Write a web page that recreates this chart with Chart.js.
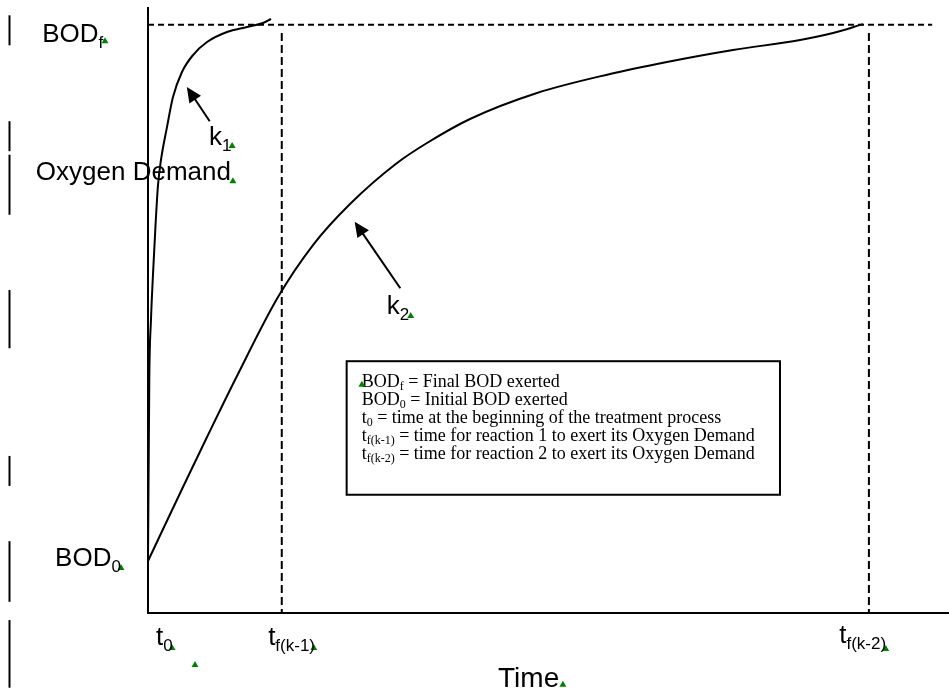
<!DOCTYPE html>
<html>
<head>
<meta charset="utf-8">
<script src="https://cdn.jsdelivr.net/npm/chart.js@4"></script>
<style>
  html, body { margin: 0; padding: 0; background: #fff; }
  #wrap { width: 949px; height: 688px; }
</style>
</head>
<body>
<div id="wrap"><canvas id="bod"></canvas></div>
<script>
// time axis: t0 = 0, reaction end times
const T0 = 0;
const TF_K1 = 16.7;
const TF_K2 = 90;
const T_END = 100;
const BOD_F = 100;
const BOD_TOP = 103;

// curves (time, oxygen demand)
const k1Time = [0, 0.16, 0.37, 0.62, 0.94, 1.25, 1.62, 2.37, 3.12, 4.24, 5.62, 7.37, 9.86, 12.36, 14.36, 15.36];
const k1Bod = [8.84, 39.6, 49.8, 57.45, 65.95, 72.75, 77.0, 82.6, 87.7, 91.96, 94.85, 97.06, 98.76, 99.61, 100.29, 100.97];

const k2Time = [0, 4.37, 7.37, 11.11, 16.23, 20.6, 25.22, 31.09, 34.83, 40.2, 48.56, 57.68, 64.79, 73.03, 81.4, 85.52, 89.26];
const k2Bod = [8.84, 21.42, 29.92, 40.29, 53.71, 62.55, 69.52, 76.49, 79.89, 83.97, 88.39, 91.62, 93.66, 95.7, 97.4, 98.59, 100.1];

// the small green markers scattered over the drawing
const markX = [-5.37, 10.5, 10.6, -3.37, 3.0, 5.87, 20.7, 92.1, 51.8, 32.8, 26.7];
const markY = [97.2, 79.4, 73.4, 7.65, -5.95, -8.84, -5.95, -6.1, -12.2, 50.5, 38.8];

const legendLines = [
  ["BOD", "f", " = Final BOD exerted"],
  ["BOD", "0", " = Initial BOD exerted"],
  ["t", "0", " = time at the beginning of the treatment process"],
  ["t", "f(k-1)", " = time for reaction 1 to exert its Oxygen Demand"],
  ["t", "f(k-2)", " = time for reaction 2 to exert its Oxygen Demand"],
];

const pts = (xs, ys) => xs.map((v, i) => ({ x: v, y: ys[i] }));

const SANS = '"Liberation Sans", Arial, sans-serif';
const SERIF = '"Liberation Serif", "Times New Roman", serif';

function subText(ctx, main, sub, rest, x, y, size, subSize, drop, family) {
  ctx.font = size + "px " + family;
  ctx.fillText(main, x, y);
  let w = ctx.measureText(main).width;
  ctx.font = subSize + "px " + family;
  ctx.fillText(sub, x + w, y + drop);
  w += ctx.measureText(sub).width;
  if (rest) {
    ctx.font = size + "px " + family;
    ctx.fillText(rest, x + w, y);
  }
}

function arrow(ctx, x1, y1, x2, y2) {
  const ang = Math.atan2(y2 - y1, x2 - x1);
  const len = 15, half = 7;
  const c = Math.cos(ang), s = Math.sin(ang);
  ctx.beginPath();
  ctx.moveTo(x1, y1);
  ctx.lineTo(x2 - c * len * 0.8, y2 - s * len * 0.8);
  ctx.stroke();
  ctx.beginPath();
  ctx.moveTo(x2, y2);
  ctx.lineTo(x2 - c * len + s * half, y2 - s * len - c * half);
  ctx.lineTo(x2 - c * len - s * half, y2 - s * len + c * half);
  ctx.closePath();
  ctx.fill();
}

const drawing = {
  id: "drawing",
  beforeDatasetsDraw(chart) {
    const { ctx, scales: { x, y } } = chart;
    ctx.save();
    ctx.strokeStyle = "#000";
    ctx.lineWidth = 2;
    ctx.beginPath();
    ctx.moveTo(x.getPixelForValue(T0), y.getPixelForValue(BOD_TOP));
    ctx.lineTo(x.getPixelForValue(T0), y.getPixelForValue(0));
    ctx.lineTo(x.getPixelForValue(T_END), y.getPixelForValue(0));
    ctx.stroke();

    // stray bars along the left edge
    const bars = [[101.6, 96.5], [83.6, 78.5], [77.9, 67.7], [54.9, 45.0], [26.7, 21.6], [12.2, 1.9], [-1.2, -12.7]];
    const bx = Math.round(x.getPixelForValue(-17.4)) + 0.5;
    bars.forEach(([t, b]) => {
      ctx.beginPath();
      ctx.moveTo(bx, y.getPixelForValue(t));
      ctx.lineTo(bx, y.getPixelForValue(b));
      ctx.stroke();
    });

    // legend box
    const l = x.getPixelForValue(24.8), r = x.getPixelForValue(78.9);
    const t = y.getPixelForValue(42.8), b = y.getPixelForValue(20.1);
    ctx.strokeRect(l, t, r - l, b - t);
    ctx.fillStyle = "#000";
    ctx.textBaseline = "alphabetic";
    legendLines.forEach((ln, i) => {
      subText(ctx, ln[0], ln[1], ln[2], l + 15, t + 26 + i * 18, 18, 12, 3, SERIF);
    });
    ctx.restore();
  },
  afterDatasetsDraw(chart) {
    const { ctx, scales: { x, y } } = chart;
    const px = (v) => x.getPixelForValue(v);
    const py = (v) => y.getPixelForValue(v);
    ctx.save();
    ctx.fillStyle = "#000";
    ctx.strokeStyle = "#000";
    ctx.lineWidth = 2;
    ctx.textBaseline = "alphabetic";

    subText(ctx, "BOD", "f", "", px(-13.2), py(97.2) + 1, 26, 17, 6, SANS);
    subText(ctx, "k", "1", "", px(7.6), py(79.5), 26, 17, 6, SANS);
    ctx.font = "26px " + SANS;
    ctx.fillText("Oxygen Demand", px(-14.0), py(73.6));
    subText(ctx, "BOD", "0", "", px(-11.6), py(8.0), 26, 17, 6, SANS);
    subText(ctx, "k", "2", "", px(29.8), py(50.9), 26, 17, 6, SANS);

    subText(ctx, "t", "0", "", px(1.0), py(-5.4), 26, 17, 6, SANS);
    subText(ctx, "t", "f(k-1)", "", px(15.0), py(-5.4), 26, 17, 6, SANS);
    subText(ctx, "t", "f(k-2)", "", px(86.3), py(-5.1), 26, 17, 6, SANS);
    ctx.font = "28px " + SANS;
    ctx.fillText("Time", px(43.7), py(-12.5));

    arrow(ctx, px(7.7), py(83.6), px(4.85), py(89.4));
    arrow(ctx, px(31.5), py(55.2), px(25.8), py(66.5));
    ctx.restore();
  },
};

new Chart(document.getElementById("bod"), {
  type: "line",
  data: {
    datasets: [
      {
        data: pts(k1Time, k1Bod),
        borderColor: "#000",
        borderWidth: 2,
        pointRadius: 0,
        cubicInterpolationMode: "monotone",
        fill: false,
      },
      {
        data: pts(k2Time, k2Bod),
        borderColor: "#000",
        borderWidth: 2,
        pointRadius: 0,
        cubicInterpolationMode: "monotone",
        fill: false,
      },
      {
        data: [{ x: T0, y: BOD_F }, { x: 97.9, y: BOD_F }],
        borderColor: "#000",
        borderWidth: 2,
        borderDash: [6, 4],
        pointRadius: 0,
      },
      {
        data: [{ x: TF_K1, y: 98.6 }, { x: TF_K1, y: 0 }],
        borderColor: "#000",
        borderWidth: 2,
        borderDash: [8, 4],
        pointRadius: 0,
      },
      {
        data: [{ x: TF_K2, y: 98.6 }, { x: TF_K2, y: 0 }],
        borderColor: "#000",
        borderWidth: 2,
        borderDash: [8, 4],
        pointRadius: 0,
      },
      {
        data: pts(markX, markY),
        showLine: false,
        pointStyle: "triangle",
        pointRadius: 4,
        backgroundColor: "#008000",
        borderColor: "#008000",
        borderWidth: 0,
        clip: false,
      },
    ],
  },
  options: {
    responsive: true,
    maintainAspectRatio: false,
    animation: false,
    layout: { padding: 0, autoPadding: false },
    plugins: { legend: { display: false }, tooltip: { enabled: false } },
    scales: {
      x: { type: "linear", min: -18.477, max: T_END, display: false },
      y: { type: "linear", min: -12.749, max: 104.2, display: false },
    },
  },
  plugins: [drawing],
});
</script>
</body>
</html>
